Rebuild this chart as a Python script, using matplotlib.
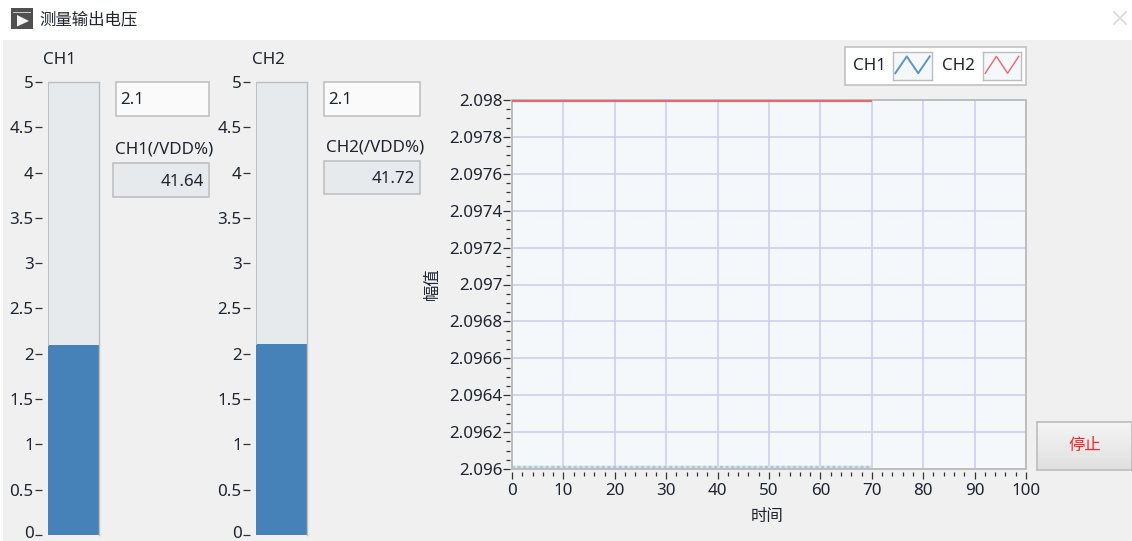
import numpy as np
import matplotlib
matplotlib.use("Agg")
import matplotlib.pyplot as plt
from matplotlib.patches import Rectangle, Polygon
from matplotlib.ticker import MultipleLocator
from matplotlib.transforms import ScaledTranslation

plt.rcParams['font.family'] = ['Noto Sans', 'Noto Sans CJK SC', 'DejaVu Sans']

# ---- data ----
title_text = "测量输出电压"
tank_names = ["CH1", "CH2"]
tank_values = [2.098, 2.11]
tank_ticks = [0, 0.5, 1, 1.5, 2, 2.5, 3, 3.5, 4, 4.5, 5]
tank_tick_labels = ["0", "0.5", "1", "1.5", "2", "2.5", "3", "3.5", "4", "4.5", "5"]
input_values = ["2.1", "2.1"]
pct_labels = ["CH1(/VDD%)", "CH2(/VDD%)"]
pct_values = ["41.64", "41.72"]
time_points = [0, 10, 20, 30, 40, 50, 60, 70]
ch1_values = [2.096, 2.096, 2.096, 2.096, 2.096, 2.096, 2.096, 2.096]
ch2_values = [2.098, 2.098, 2.098, 2.098, 2.098, 2.098, 2.098, 2.098]
y_ticks = [2.096, 2.0962, 2.0964, 2.0966, 2.0968, 2.097, 2.0972, 2.0974, 2.0976, 2.0978, 2.098]
y_tick_labels = ["2.096", "2.0962", "2.0964", "2.0966", "2.0968", "2.097",
                 "2.0972", "2.0974", "2.0976", "2.0978", "2.098"]
x_ticks = [0, 10, 20, 30, 40, 50, 60, 70, 80, 90, 100]
x_label = "时间"
y_label = "幅值"
stop_label = "停止"
legend_icon_y = [0, 1, 0, 1]

W, H = 1132, 541
TXT = "#1f2430"
EDGE = "#bdbdbd"
FS = 12.2
CJK = 11.8
DY = 1.5  # Latin text sits a little high in its line box

fig = plt.figure(figsize=(W / 100, H / 100), dpi=100, facecolor="white")


def px_axes(x0, y0, x1, y1, **kw):
    return fig.add_axes([x0 / W, 1 - y1 / H, (x1 - x0) / W, (y1 - y0) / H], **kw)


# background canvas in pixel coordinates
bg = fig.add_axes([0, 0, 1, 1], zorder=0)
bg.set_xlim(0, W)
bg.set_ylim(H, 0)
bg.axis("off")
bg.add_patch(Rectangle((3, 40), W - 3, H - 40, fc="#f0f0f0", ec="none"))


def box(x0, y0, x1, y1, fc, ec=EDGE, lw=1.1):
    bg.add_patch(Rectangle((x0, y0), x1 - x0, y1 - y0, fc=fc, ec=ec, lw=lw))


# title bar
bg.add_patch(Rectangle((11, 8), 22, 21, fc="#505050", ec="none"))
bg.add_patch(Rectangle((13, 11.5), 18, 1, fc="#c8c8c8", ec="none"))
bg.add_patch(Polygon([[17, 15], [17, 26.5], [29, 21]], fc="#f4f4f4", ec="none"))
bg.text(39, 20, title_text, fontsize=CJK, color=TXT, va="center", ha="left")
bg.plot([1114, 1126], [12, 24], color="#d6d6d6", lw=1.1)
bg.plot([1114, 1126], [24, 12], color="#d6d6d6", lw=1.1)

# tanks with their scales, value boxes
tank_x = [(48, 99), (256, 307)]
input_box = [(116, 82, 209, 116), (324, 82, 420, 116)]
pct_box = [(113, 163, 209, 197), (324, 161, 420, 194)]
pct_label_xy = [(164, 148), (375, 145.5)]
name_x = [59, 268]
lift_zero = ScaledTranslation(0, 2.5 / 100, fig.dpi_scale_trans)
for i in range(2):
    x0, x1 = tank_x[i]
    ax = px_axes(x0, 82, x1, 535, zorder=2)
    ax.spines["left"].set_position(("outward", 4.3))
    ax.set_facecolor("#e7eaed")
    ax.bar([0], [tank_values[i]], width=1, color="#4682b8", edgecolor="none")
    ax.set_xlim(-0.5, 0.5)
    ax.set_ylim(0, 5)
    ax.set_xticks([])
    ax.set_yticks(tank_ticks)
    ax.set_yticklabels(tank_tick_labels, fontsize=FS, color=TXT)
    ax.tick_params(axis="y", length=5, width=0.9, color="#333333", pad=1)
    zero_label = ax.get_yticklabels()[0]
    zero_label.set_transform(zero_label.get_transform() + lift_zero)
    for side in ("left", "bottom"):
        ax.spines[side].set_visible(False)
    for side in ("top", "right"):
        ax.spines[side].set_color(EDGE)
        ax.spines[side].set_linewidth(1)
    ax.plot([-0.5, -0.5], [tank_values[i], 5], color=EDGE, lw=1.4, clip_on=True)
    bg.text(name_x[i], 58 + DY, tank_names[i], fontsize=FS, color=TXT, ha="center", va="center")
    a, b, c, d = input_box[i]
    box(a, b, c, d, "#fafafa")
    bg.text(a + 4, (b + d) / 2 + DY, input_values[i], fontsize=FS, color=TXT, ha="left", va="center")
    a, b, c, d = pct_box[i]
    box(a, b, c, d, "#e7eaed")
    bg.text(c - 5, (b + d) / 2 + DY, pct_values[i], fontsize=FS, color=TXT, ha="right", va="center")
    bg.text(pct_label_xy[i][0], pct_label_xy[i][1] + DY, pct_labels[i], fontsize=FS, color=TXT,
            ha="center", va="center")

# waveform graph
gx = px_axes(512, 100, 1026, 469, zorder=2)
gx.spines["left"].set_position(("outward", 1.4))
gx.spines["bottom"].set_position(("outward", 2.2))
gx.set_facecolor("#f4f8fa")
gx.plot(time_points, ch1_values, color="#d3e2ee", lw=4.6, solid_capstyle="butt")
gx.plot(time_points, ch1_values, color="#a9c8df", lw=4.6, linestyle=(0, (0.44, 0.44)))
gx.plot(time_points, ch2_values, color="#e4686c", lw=3, solid_capstyle="butt", zorder=8)
gx.set_xlim(0, 100)
gx.set_ylim(2.096, 2.098)
gx.set_xticks(x_ticks)
gx.set_xticklabels([str(v) for v in x_ticks], fontsize=FS, color=TXT)
gx.set_yticks(y_ticks)
gx.set_yticklabels(y_tick_labels, fontsize=FS, color=TXT)
gx.xaxis.set_minor_locator(MultipleLocator(2))
gx.yaxis.set_minor_locator(MultipleLocator(0.00005))
gx.tick_params(axis="y", which="major", length=4.8, width=0.9, color="#333333", pad=0.5)
gx.tick_params(axis="x", which="major", length=4.8, width=0.9, color="#333333", pad=2.8)
gx.tick_params(axis="both", which="minor", length=3, width=0.9, color="#333333")
gx.grid(True, which="major", color="#cfcfee", lw=1.2)
gx.set_axisbelow(True)
for side, s in gx.spines.items():
    s.set_visible(False)
gx.add_patch(Rectangle((0, 0), 1, 1, transform=gx.transAxes, fc="none", ec=EDGE, lw=1.4,
                       clip_on=False, zorder=6))
bg.text(767, 516.5, x_label, fontsize=CJK, color=TXT, ha="center", va="center", zorder=5)
bg.text(433, 284, y_label, fontsize=CJK, color=TXT, ha="center", va="center", rotation=90, zorder=5)

# legend
box(845, 47, 1026, 85, "white")
bg.text(869, 65 + DY, tank_names[0], fontsize=FS, color=TXT, ha="center", va="center")
bg.text(958, 65 + DY, tank_names[1], fontsize=FS, color=TXT, ha="center", va="center")
for (a, b), col, lw in [((893, 932), "#5f95c0", 1.4), ((983, 1021), "#f0646c", 1.0)]:
    icon = px_axes(a, 52, b, 80, zorder=3)
    icon.set_facecolor("#f4f8fa")
    icon.plot(np.arange(len(legend_icon_y)), legend_icon_y, color=col, lw=lw)
    icon.set_xlim(-0.2, len(legend_icon_y) - 0.8)
    icon.set_ylim(-0.4, 1.26)
    icon.set_xticks([])
    icon.set_yticks([])
    for s in icon.spines.values():
        s.set_color(EDGE)
        s.set_linewidth(1.0)

# stop button
btn = px_axes(1037, 422, 1132, 470, zorder=2)
btn.imshow(np.linspace(0.955, 0.875, 48).reshape(-1, 1), cmap="gray", vmin=0, vmax=1, aspect="auto")
btn.set_xticks([])
btn.set_yticks([])
for s in btn.spines.values():
    s.set_color(EDGE)
    s.set_linewidth(1.2)
btn.text(0.5, 0.5, stop_label, transform=btn.transAxes, fontsize=CJK, color="#ff2020",
         ha="center", va="center")

fig.savefig("out.png", dpi=100, facecolor="white")
